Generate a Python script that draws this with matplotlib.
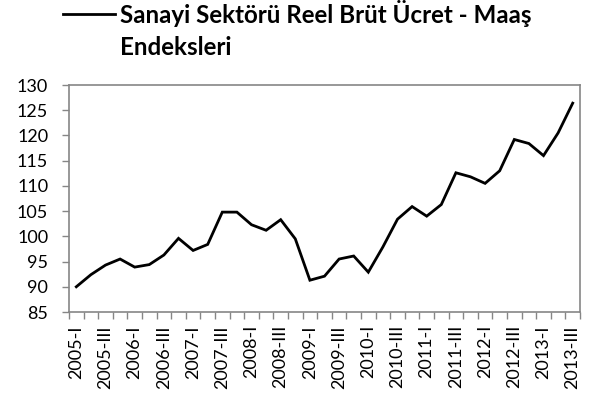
import matplotlib
matplotlib.use("Agg")
import matplotlib.pyplot as plt
from matplotlib.lines import Line2D
from matplotlib.ticker import FixedLocator, NullFormatter

plt.rcParams['font.family'] = ['Lato', 'DejaVu Sans']

series_name = ["Sanayi Sektörü Reel Brüt Ücret - Maaş", "Endeksleri"]

years = list(range(2005, 2014))
roman = ["I", "II", "III", "IV"]
quarters = [f"{y}-{q}" for y in years for q in roman][:35]

values = [90.0, 92.4, 94.3, 95.5, 93.9, 94.4, 96.3, 99.6, 97.2, 98.4,
          104.8, 104.8, 102.3, 101.2, 103.3, 99.5, 91.3, 92.1, 95.5, 96.1,
          92.9, 97.9, 103.4, 105.9, 104.0, 106.3, 112.6, 111.8, 110.5, 113.0,
          119.2, 118.4, 116.0, 120.5, 126.4]

y_ticks = [85, 90, 95, 100, 105, 110, 115, 120, 125, 130]

W, H = 591, 396
fig = plt.figure(figsize=(W / 100, H / 100), dpi=100)
ax = fig.add_axes([69 / W, 1 - 312 / H, 511 / W, 227 / H])

x = list(range(len(values)))
ax.plot(x, values, color="black", linewidth=2.0, solid_joinstyle="miter")

grey = "#868686"
ax.set_xlim(-0.5, len(values) - 0.5)
ax.set_ylim(85, 130)
ax.set_yticks(y_ticks)
ax.set_yticklabels([str(v) for v in y_ticks], fontsize=13)
ax.tick_params(axis="y", length=5, width=1, color=grey, direction="out", pad=10)

label_pos = x[::2]
ax.set_xticks(label_pos)
ax.set_xticklabels([quarters[i] for i in label_pos], rotation=90, fontsize=13)
ax.tick_params(axis="x", which="major", length=0, pad=9.5)
ax.xaxis.set_minor_locator(FixedLocator([i - 0.5 for i in range(len(values) + 1)]))
ax.xaxis.set_minor_formatter(NullFormatter())
ax.tick_params(axis="x", which="minor", length=5, width=1, color=grey, direction="out")

for s in ax.spines.values():
    s.set_color(grey)
    s.set_linewidth(1.2)

# series key above the plot
fig.add_artist(Line2D([63 / W, 115 / W], [1 - 14 / H, 1 - 14 / H],
                      color="black", linewidth=2.0, transform=fig.transFigure))
fig.text(120 / W, 1 - 23 / H, series_name[0], fontsize=17.4, fontweight="bold",
         ha="left", va="baseline")
fig.text(120 / W, 1 - 55 / H, series_name[1], fontsize=17.4, fontweight="bold",
         ha="left", va="baseline")

fig.savefig("out.png", dpi=100)
